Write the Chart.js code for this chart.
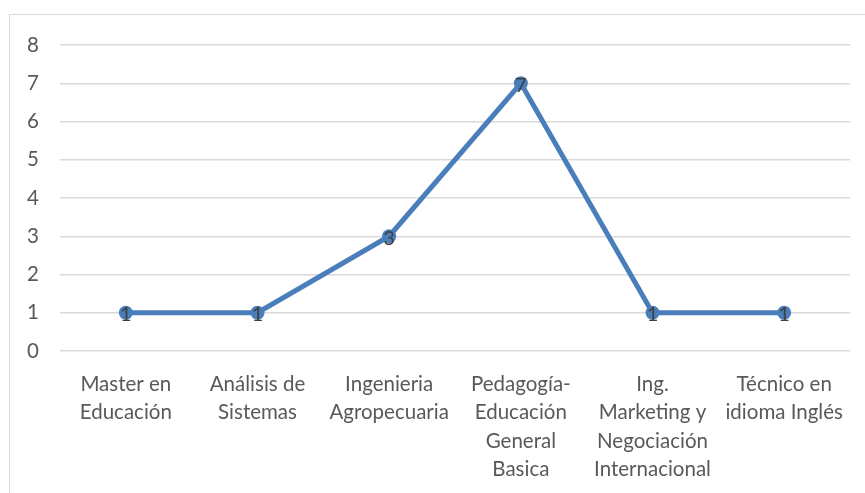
<!DOCTYPE html>
<html>
<head>
<meta charset="utf-8">
<script src="https://cdn.jsdelivr.net/npm/chart.js@4/dist/chart.umd.min.js"></script>
<style>
  html, body { margin: 0; padding: 0; background: #fff; }
  body { width: 865px; height: 493px; position: relative; overflow: hidden; }
  #frame { position: absolute; left: 9px; top: 14px; width: 870px; height: 500px; border: 1.5px solid #d9d9d9; }
  #wrap { position: absolute; left: 0; top: 0; width: 865px; height: 493px; }
</style>
</head>
<body>
<div id="frame"></div>
<div id="wrap"><canvas id="chart"></canvas></div>
<script>
// carreras (etiquetas del eje X, en varias líneas)
const categories = [
    ['Master en', 'Educación'],
    ['Análisis de', 'Sistemas'],
    ['Ingenieria', 'Agropecuaria'],
    ['Pedagogía-', 'Educación', 'General', 'Basica'],
    ['Ing.', 'Marketing y', 'Negociación', 'Internacional'],
    ['Técnico en', 'idioma Inglés']
];
const values = [1, 1, 3, 7, 1, 1];
const yTicks = [0, 1, 2, 3, 4, 5, 6, 7, 8];

const LINE_BLUE = '#4a7ebb';
const TEXT_GRAY = '#595959';
const GRID_GRAY = '#d9d9d9';
const FONT = "Lato, 'Open Sans', sans-serif";

// etiquetas de datos centradas en cada punto
const pointLabels = {
    id: 'pointLabels',
    afterDatasetsDraw(chart) {
        const ctx = chart.ctx;
        const meta = chart.getDatasetMeta(0);
        ctx.save();
        ctx.font = '20px ' + FONT;
        ctx.fillStyle = '#404040';
        ctx.textAlign = 'center';
        ctx.textBaseline = 'middle';
        meta.data.forEach((pt, i) => {
            ctx.fillText(String(values[i]), pt.x, pt.y + 2);
        });
        ctx.restore();
    }
};

new Chart(document.getElementById('chart'), {
    type: 'line',
    data: {
        labels: categories,
        datasets: [{
            data: values,
            borderColor: LINE_BLUE,
            backgroundColor: LINE_BLUE,
            borderWidth: 5,
            pointRadius: 7,
            pointHoverRadius: 7,
            pointBorderWidth: 0,
            tension: 0,
            fill: false
        }]
    },
    options: {
        responsive: true,
        maintainAspectRatio: false,
        animation: false,
        layout: { padding: { top: 45, right: 15, left: 0, bottom: 0 } },
        plugins: {
            legend: { display: false },
            tooltip: { enabled: false }
        },
        scales: {
            x: {
                offset: true,
                afterFit: s => { s.height = 142; },
                grid: { display: false, drawTicks: false },
                border: { display: false },
                ticks: {
                    color: TEXT_GRAY,
                    font: { family: FONT, size: 20.5, lineHeight: 1.39 },
                    padding: 19,
                    maxRotation: 0,
                    autoSkip: false
                }
            },
            y: {
                min: 0,
                max: 8,
                afterFit: s => { s.width = 60; },
                afterBuildTicks: s => { s.ticks = yTicks.map(v => ({ value: v })); },
                grid: { color: GRID_GRAY, lineWidth: 1.5, drawTicks: false },
                border: { display: false },
                ticks: {
                    color: TEXT_GRAY,
                    font: { family: FONT, size: 20.5 },
                    padding: 21
                }
            }
        }
    },
    plugins: [pointLabels]
});
</script>
</body>
</html>
